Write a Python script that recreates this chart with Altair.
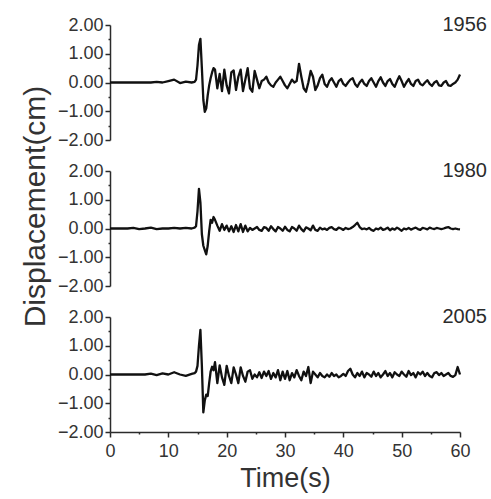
import altair as alt
import pandas as pd

# ---- sampling grid (seconds) ----
T_QUIET = [0, 1, 2, 3, 4, 5, 6, 7, 8, 9, 10, 11, 12, 13, 14]
T_PULSE = [14.5, 14.75, 15.0, 15.25, 15.5, 15.75, 16.0, 16.25, 16.5, 16.75,
           17.0, 17.25, 17.5, 17.75, 18.0]
T_CODA = [round(18.4 + 0.4 * k, 1) for k in range(105)]
TIME = T_QUIET + T_PULSE + T_CODA

YEARS = ["1956", "1980", "2005"]

# ---- displacement (cm) ----
D1956 = (
    [0, 0, 0, 0, 0, 0, 0, 0, 0.02, 0.0, 0.05, 0.1, -0.02, 0.03, 0.0]
    + [0.02, 0.1, 0.6, 1.3, 1.52, 0.5, -0.6, -1.02, -0.9, -0.45,
       -0.1, 0.15, 0.35, 0.5, 0.45]
    + [-0.2, 0.3, -0.3, 0.45, -0.1, -0.38, 0.35, 0.42, -0.26, 0.2,
       0.45, -0.3, 0.1, 0.5, -0.2, -0.32, 0.4, 0.1, -0.2, 0.05,
       0.1, 0.2, 0.0, -0.1, -0.15, 0.0, 0.1, 0.2, 0.05, -0.1]
    + [-0.2, -0.05, 0.1, 0.0, 0.05, 0.65, 0.2, -0.2, -0.32, 0.0,
       0.4, 0.2, -0.26, -0.1, 0.15, 0.27, -0.05, -0.15, 0.05, 0.15,
       0.0, -0.15, 0.05, 0.12, -0.05]
    + [-0.12, 0.0, 0.1, 0.15, -0.05, -0.15, 0.0, 0.1, -0.05, -0.12,
       0.05, 0.15, 0.0, -0.15, 0.05, 0.18, 0.0, -0.12, 0.05, 0.12,
       -0.05, -0.15, 0.05, 0.22, 0.05]
    + [-0.15, 0.0, 0.12, -0.05, -0.12, 0.05, 0.1, -0.05, -0.1, 0.0,
       0.08, -0.05, -0.12, 0.0, 0.05, -0.1, -0.12, 0.0, 0.05, -0.1,
       -0.12, -0.05, 0.0, 0.1, 0.28]
)

D1980 = (
    [0, 0, 0, 0, 0.02, -0.02, 0, 0.03, -0.02, 0, 0, 0.02, 0, 0.02, 0.0]
    + [0.03, 0.08, 0.6, 1.38, 0.9, -0.2, -0.6, -0.75, -0.9, -0.6,
       -0.1, 0.3, 0.2, 0.4, 0.3]
    + [0.1, -0.08, 0.15, -0.05, 0.1, -0.1, 0.08, -0.12, 0.12, -0.1,
       0.15, -0.12, 0.1, -0.1, 0.02, -0.05, 0.0, 0.05, -0.05, -0.08,
       0.05, 0.02, -0.08, 0.08, -0.02, -0.1, 0.05, 0.0, -0.08, 0.06]
    + [-0.05, -0.1, 0.05, 0.0, -0.08, 0.1, -0.02, -0.1, 0.04, 0.0,
       -0.06, 0.1, -0.05, -0.08, 0.03, -0.03, 0.0, -0.05, 0.02, 0.05,
       -0.02, -0.05, 0.03, 0.0, -0.05]
    + [0.02, -0.02, 0.0, 0.05, 0.12, 0.2, 0.05, -0.02, 0.0, -0.03,
       0.02, -0.05, -0.08, 0.0, -0.03, 0.03, -0.05, -0.02, 0.03, -0.06,
       0.0, -0.04, 0.03, -0.02, -0.08]
    + [0.0, -0.03, 0.02, -0.04, 0.0, 0.03, -0.02, -0.05, 0.02, 0.0,
       -0.03, 0.03, 0.0, -0.02, 0.02, 0.0, -0.02, 0.0, 0.03, 0.05,
       0.0, -0.02, 0.0, -0.02, -0.03]
)

D2005 = (
    [0, 0, 0, 0, 0, 0, 0, 0.03, -0.02, 0.04, 0.0, 0.08, 0.0, -0.05, 0.02]
    + [0.05, 0.1, 0.3, 1.0, 1.55, 0.3, -1.32, -0.9, -0.7, -0.75,
       -0.3, 0.1, 0.27, 0.15, 0.43]
    + [-0.3, 0.32, -0.1, -0.36, 0.3, -0.05, -0.3, 0.25, 0.0, -0.3,
       0.25, -0.05, -0.25, 0.1, 0.15, -0.15, 0.0, -0.1, 0.08, -0.12,
       0.1, -0.05, 0.12, -0.15, 0.05, -0.1, 0.15, -0.2, 0.1, -0.15]
    + [0.12, -0.2, 0.05, -0.1, 0.15, -0.05, -0.2, 0.1, -0.05, 0.26,
       -0.3, 0.1, 0.0, -0.1, 0.05, -0.05, -0.1, 0.0, -0.08, 0.05,
       -0.05, 0.0, -0.1, -0.05, 0.02]
    + [-0.05, 0.12, 0.2, 0.0, -0.1, 0.05, -0.05, 0.1, -0.1, 0.05,
       0.0, -0.08, 0.1, -0.05, 0.05, -0.1, 0.0, 0.12, -0.05, 0.05,
       -0.1, 0.08, 0.0, -0.05, 0.1]
    + [0.0, -0.08, 0.12, -0.02, 0.05, -0.1, 0.08, 0.0, 0.1, -0.05,
       0.05, -0.05, -0.1, 0.05, 0.08, -0.02, 0.05, -0.05, 0.0, 0.05,
       -0.05, -0.08, -0.02, 0.26, 0.0]
)

SERIES = {"1956": D1956, "1980": D1980, "2005": D2005}
for k, v in SERIES.items():
    assert len(v) == len(TIME), (k, len(v), len(TIME))

Y_TICKS = [-2, -1.5, -1, -0.5, 0, 0.5, 1, 1.5, 2]
X_TICKS = [0, 5, 10, 15, 20, 25, 30, 35, 40, 45, 50, 55, 60]

FONT = "Liberation Sans"
INK = "#2b2b2b"

XS = alt.Scale(domain=[0, 60], nice=False)
YS = alt.Scale(domain=[-2, 2], nice=False)


def panel(year, show_x):
    df = pd.DataFrame({"t": TIME, "v": SERIES[year]})
    lab = pd.DataFrame({"t": [60], "v": [2.0], "year": [year]})

    if show_x:
        xaxis = alt.Axis(
            values=X_TICKS,
            labelExpr="datum.value % 10 === 0 ? datum.label : ''",
            tickSize={"condition": {"test": "datum.value % 10 !== 0", "value": 2}, "value": 5},
            labelOverlap=False,
            labelFlush=False,
            labelPadding=5,
            title="Time(s)",
            titleFontSize=27,
            titlePadding=5,
        )
    else:
        xaxis = None

    yaxis = alt.Axis(
        values=Y_TICKS,
        labelExpr="datum.value % 1 === 0 ? format(datum.value, '.2f') : ''",
        tickSize={"condition": {"test": "datum.value % 1 !== 0", "value": 2}, "value": 5},
        labelOverlap=False,
        labelPadding=2,
        title=None,
    )
    xenc = alt.X("t:Q", scale=XS, axis=xaxis)
    yenc = alt.Y("v:Q", scale=YS, axis=yaxis)

    line = alt.Chart(df).mark_line(
        color="#111111", strokeWidth=2.3, strokeJoin="round"
    ).encode(x=xenc, y=yenc)
    text = alt.Chart(lab).mark_text(
        align="right", baseline="middle", dx=27, dy=0, fontSize=20, font=FONT, color=INK
    ).encode(x=xenc, y=yenc, text="year:N")
    return alt.layer(line, text).properties(width=350, height=115)


# shared y-axis title, drawn by an axis that spans the stacked panels
title_axis = alt.Chart(pd.DataFrame({"v": []})).mark_point().encode(
    y=alt.Y(
        "v:Q",
        scale=YS,
        axis=alt.Axis(
            title="Displacement(cm)",
            titleFontSize=30,
            titlePadding=0,
            labels=False,
            ticks=False,
            domain=False,
        ),
    )
).properties(width=0, height=362)

panels = alt.vconcat(
    panel("1956", False),
    panel("1980", False),
    panel("2005", True),
    spacing=31,
    bounds="flush",
)

chart = alt.hconcat(title_axis, panels, spacing=40, bounds="flush").properties(
    padding={"left": 20, "top": 15, "right": 2, "bottom": 3},
    background="white",
).configure_view(stroke=None).configure_axis(
    grid=False,
    domainColor=INK,
    tickColor=INK,
    domainWidth=1.5,
    tickWidth=1.5,
    labelColor="#333333",
    labelFont=FONT,
    labelFontSize=18,
    titleFont=FONT,
    titleColor="#333333",
    titleFontWeight="normal",
)

chart.save("out.html", embed_options={"renderer": "svg", "actions": False})
